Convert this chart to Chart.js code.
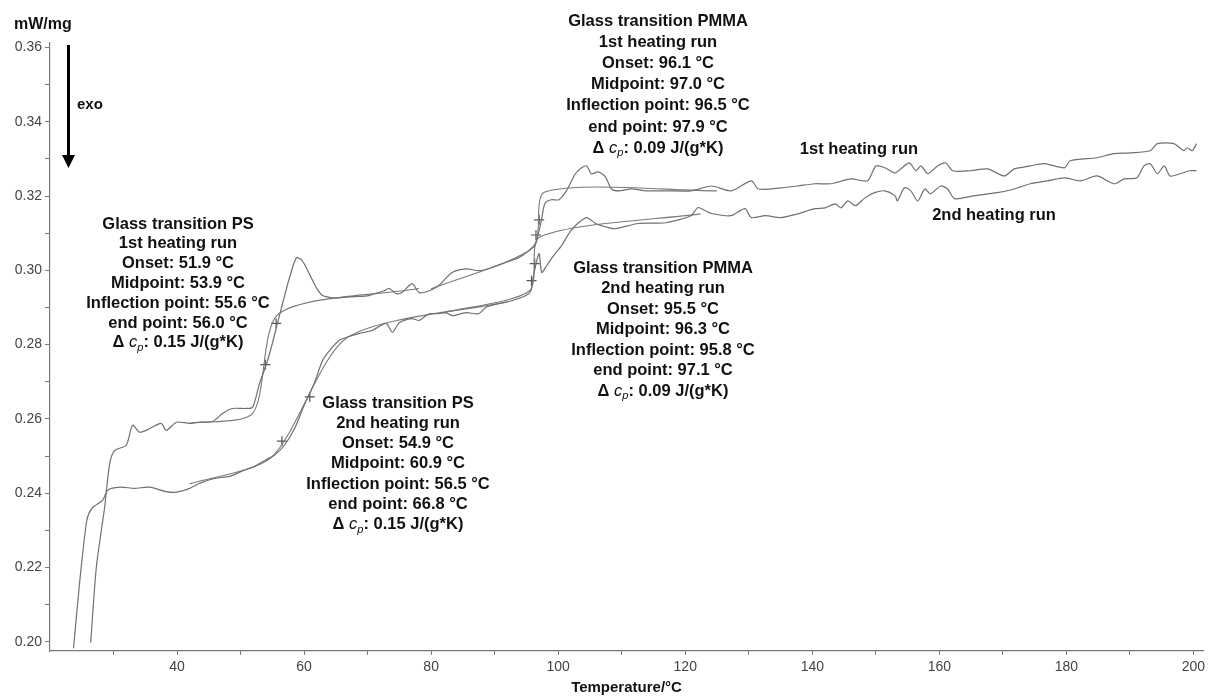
<!DOCTYPE html>
<html>
<head>
<meta charset="utf-8">
<script src="https://cdn.jsdelivr.net/npm/chart.js@4.4.1/dist/chart.umd.min.js"></script>
<style>
  html, body { margin: 0; padding: 0; background: #fff; }
  #wrap { width: 1210px; height: 697px; position: relative; }
</style>
</head>
<body>
<div id="wrap"><canvas id="dsc"></canvas></div>
<script>
// --- 1st heating run (temperature °C / heat flow mW/mg) ---
const run1Temp = [26.4,27.3,28.6,29.4,30.2,32.0,33.0,34.1,35.7,37.5,
  38.3,39.9,42.0,43.6,45.6,47.2,48.7,50.9,51.9,53.0,
  54.1,55.0,55.8,56.6,57.7,58.8,59.7,60.8,61.9,62.9,
  64.4,65.5,67.9,70.2,72.6,73.4,74.5,75.4,77.0,78.1,
  79.7,81.2,83.3,85.5,87.5,89.5,91.7,93.8,95.4,96.4,
  97.3,97.9,98.9,100.1,101.3,102.7,103.7,104.5,105.2,106.3,
  107.4,108.4,109.5,111.5,113.7,116.9,120.9,124.1,127.2,130.4,
  131.5,135.1,137.7,140.4,142.9,146.1,148.7,150.0,151.4,153.0,
  153.9,155.3,156.3,157.1,158.2,159.7,161.0,162.1,164.9,167.6,
  170.2,171.8,174.3,176.5,179.7,180.6,184.8,187.5,190.0,193.2,
  194.3,196.9,198.5,199.0,199.8,200.5];
const run1Flow = [0.1997,0.2201,0.2362,0.2480,0.2515,0.2529,0.2583,0.2564,0.2574,0.2588,
  0.2569,0.2591,0.2588,0.2591,0.2593,0.2615,0.2628,0.2628,0.2631,0.2696,
  0.2749,0.2803,0.2857,0.2910,0.2980,0.3034,0.3026,0.2991,0.2954,0.2932,
  0.2926,0.2926,0.2929,0.2932,0.2945,0.2951,0.2937,0.2940,0.2964,0.2940,
  0.2945,0.2959,0.2994,0.3004,0.2999,0.3007,0.3021,0.3034,0.3053,0.3072,
  0.3130,0.3180,0.3190,0.3190,0.3214,0.3260,0.3276,0.3281,0.3260,0.3265,
  0.3252,0.3219,0.3214,0.3219,0.3214,0.3214,0.3214,0.3227,0.3214,0.3241,
  0.3219,0.3222,0.3227,0.3233,0.3233,0.3246,0.3241,0.3281,0.3276,0.3262,
  0.3273,0.3289,0.3268,0.3281,0.3260,0.3281,0.3289,0.3268,0.3268,0.3273,
  0.3254,0.3273,0.3281,0.3287,0.3276,0.3295,0.3303,0.3314,0.3316,0.3322,
  0.3341,0.3341,0.3322,0.3330,0.3322,0.3341];

// --- 2nd heating run ---
const run2Temp = [23.7,24.7,25.8,26.6,28.3,29.1,31.0,33.3,35.7,38.1,
  39.6,42.0,43.6,45.9,48.3,50.6,52.2,53.8,55.3,56.9,
  58.5,60.0,61.6,62.9,64.0,65.5,66.6,68.7,70.7,72.9,
  73.9,75.0,77.0,78.1,79.7,81.2,82.3,83.3,85.5,87.5,
  88.6,90.6,92.7,94.9,95.7,96.0,96.6,97.0,97.4,98.2,
  99.3,100.5,102.0,103.2,104.5,105.9,107.9,109.0,112.6,116.9,
  120.9,122.0,123.1,124.1,127.2,129.4,130.4,132.6,135.1,137.7,
  140.4,142.0,143.6,144.5,145.6,146.8,148.3,149.8,151.4,153.0,
  153.4,154.5,155.5,156.6,157.7,158.6,160.2,161.3,162.4,165.5,
  169.1,171.8,174.3,177.0,179.7,182.2,184.8,187.5,189.1,191.1,
  192.2,193.2,194.3,195.4,196.3,197.9,199.4,200.5];
const run2Flow = [0.1982,0.2166,0.2327,0.2359,0.2381,0.2408,0.2416,0.2413,0.2416,0.2405,
  0.2402,0.2413,0.2427,0.2440,0.2445,0.2462,0.2472,0.2488,0.2502,0.2529,
  0.2574,0.2636,0.2696,0.2757,0.2784,0.2811,0.2819,0.2830,0.2838,0.2857,
  0.2833,0.2859,0.2870,0.2865,0.2883,0.2883,0.2886,0.2878,0.2886,0.2883,
  0.2900,0.2910,0.2918,0.2932,0.2945,0.2975,0.3025,0.3045,0.2994,0.3013,
  0.3040,0.3066,0.3107,0.3128,0.3142,0.3126,0.3115,0.3112,0.3126,0.3128,
  0.3147,0.3169,0.3161,0.3153,0.3147,0.3166,0.3142,0.3147,0.3142,0.3152,
  0.3166,0.3168,0.3179,0.3168,0.3187,0.3174,0.3195,0.3209,0.3214,0.3201,
  0.3187,0.3222,0.3214,0.3187,0.3219,0.3206,0.3227,0.3219,0.3193,0.3201,
  0.3209,0.3219,0.3233,0.3241,0.3249,0.3241,0.3254,0.3233,0.3246,0.3249,
  0.3281,0.3287,0.3260,0.3281,0.3254,0.3260,0.3268,0.3268];

// --- tangent constructions (baseline / step / baseline) ---
const tanPs1Temp = [42.0, 51.9, 56.0, 78.1];
const tanPs1Flow = [0.2588, 0.2615, 0.2883, 0.2951];
const tanPs2Temp = [42.0, 54.9, 66.8, 92.0];
const tanPs2Flow = [0.2425, 0.2497, 0.2819, 0.2915];
const tanPm1Temp = [80.0, 96.1, 97.9, 125.0];
const tanPm1Flow = [0.2950, 0.3062, 0.3211, 0.3214];
const tanPm2Temp = [82.0, 95.5, 97.1, 122.4];
const tanPm2Flow = [0.2886, 0.2945, 0.3090, 0.3152];

// "+" marks (midpoint / inflection on the step tangents)
const crossTemp = [53.9, 55.6, 56.5, 60.9, 96.5, 97.0, 95.8, 96.3];
const crossFlow = [0.2746, 0.2857, 0.2540, 0.2659, 0.3095, 0.3136, 0.2972, 0.3018];

// axis ticks
const xTicks = [30, 40, 50, 60, 70, 80, 90, 100, 110, 120, 130, 140, 150, 160, 170, 180, 190, 200];
const yTicks = [0.20, 0.21, 0.22, 0.23, 0.24, 0.25, 0.26, 0.27, 0.28, 0.29, 0.30, 0.31, 0.32, 0.33, 0.34, 0.35, 0.36];

// annotation texts
const ps1Lines = ['Glass transition PS', '1st heating run', 'Onset: 51.9 °C', 'Midpoint: 53.9 °C', 'Inflection point: 55.6 °C', 'end point: 56.0 °C'];
const ps2Lines = ['Glass transition PS', '2nd heating run', 'Onset: 54.9 °C', 'Midpoint: 60.9 °C', 'Inflection point: 56.5 °C', 'end point: 66.8 °C'];
const pm1Lines = ['Glass transition PMMA', '1st heating run', 'Onset: 96.1 °C', 'Midpoint: 97.0 °C', 'Inflection point: 96.5 °C', 'end point: 97.9 °C'];
const pm2Lines = ['Glass transition PMMA', '2nd heating run', 'Onset: 95.5 °C', 'Midpoint: 96.3 °C', 'Inflection point: 95.8 °C', 'end point: 97.1 °C'];
const deltaCp = ['0.15', '0.15', '0.09', '0.09'];

const FONT = '"Liberation Sans", Arial, Helvetica, sans-serif';
const LABEL_SIZE = 16.5;

function pairs(xs, ys) {
    return xs.map((x, i) => ({ x: x, y: ys[i] }));
}

function lineSet(xs, ys, color, width) {
    return {
        data: pairs(xs, ys),
        borderColor: color,
        borderWidth: width,
        pointRadius: 0,
        tension: 0.25,
        fill: false
    };
}

// draws "Δ cp: value J/(g*K)" centred at cx
function drawDelta(ctx, cx, y, value) {
    const bold = 'bold ' + LABEL_SIZE + 'px ' + FONT;
    const ital = 'italic ' + LABEL_SIZE + 'px ' + FONT;
    const sub = 'italic 11px ' + FONT;
    const p1 = 'Δ ', p3 = ': ' + value + ' J/(g*K)';
    ctx.font = bold; const w1 = ctx.measureText(p1).width, w3 = ctx.measureText(p3).width;
    ctx.font = ital; const w2 = ctx.measureText('c').width;
    ctx.font = sub; const ws = ctx.measureText('p').width;
    let x = cx - (w1 + w2 + ws + w3) / 2;
    ctx.textAlign = 'left';
    ctx.font = bold; ctx.fillText(p1, x, y); x += w1;
    ctx.font = ital; ctx.fillText('c', x, y); x += w2;
    ctx.font = sub; ctx.fillText('p', x, y + 5); x += ws;
    ctx.font = bold; ctx.fillText(p3, x, y);
}

function drawBlock(ctx, lines, delta, cx, y0, dy) {
    ctx.font = 'bold ' + LABEL_SIZE + 'px ' + FONT;
    ctx.textAlign = 'center';
    lines.forEach((t, i) => ctx.fillText(t, cx, y0 + i * dy));
    drawDelta(ctx, cx, y0 + lines.length * dy, delta);
}

const textPlugin = {
    id: 'dscText',
    afterDraw(chart) {
        const ctx = chart.ctx;
        ctx.save();
        ctx.fillStyle = '#111';
        ctx.textBaseline = 'middle';

        drawBlock(ctx, ps1Lines, deltaCp[0], 178, 224, 19.8);
        drawBlock(ctx, ps2Lines, deltaCp[1], 398, 403, 20.3);
        drawBlock(ctx, pm1Lines, deltaCp[2], 658, 21, 21.2);
        drawBlock(ctx, pm2Lines, deltaCp[3], 663, 268, 20.5);

        ctx.font = 'bold ' + LABEL_SIZE + 'px ' + FONT;
        ctx.textAlign = 'center';
        ctx.fillText('1st heating run', 859, 149);
        ctx.fillText('2nd heating run', 994, 215);

        // y axis unit
        ctx.font = 'bold 16px ' + FONT;
        ctx.textAlign = 'left';
        ctx.fillText('mW/mg', 14, 25);

        // exo arrow
        ctx.font = 'bold 15px ' + FONT;
        ctx.fillText('exo', 77, 105);
        ctx.strokeStyle = '#000';
        ctx.lineWidth = 3;
        ctx.beginPath();
        ctx.moveTo(68.5, 45);
        ctx.lineTo(68.5, 156);
        ctx.stroke();
        ctx.fillStyle = '#000';
        ctx.beginPath();
        ctx.moveTo(62, 155);
        ctx.lineTo(75, 155);
        ctx.lineTo(68.5, 168);
        ctx.closePath();
        ctx.fill();
        ctx.restore();
    }
};

new Chart(document.getElementById('dsc'), {
    type: 'line',
    data: {
        datasets: [
            lineSet(run1Temp, run1Flow, '#707070', 1.2),
            lineSet(run2Temp, run2Flow, '#707070', 1.2),
            lineSet(tanPs1Temp, tanPs1Flow, '#7a7a7a', 1.1),
            lineSet(tanPs2Temp, tanPs2Flow, '#7a7a7a', 1.1),
            lineSet(tanPm1Temp, tanPm1Flow, '#7a7a7a', 1.1),
            lineSet(tanPm2Temp, tanPm2Flow, '#7a7a7a', 1.1),
            {
                data: pairs(crossTemp, crossFlow),
                showLine: false,
                pointStyle: 'cross',
                pointRadius: 5,
                borderColor: '#555',
                borderWidth: 1.2
            }
        ]
    },
    options: {
        responsive: true,
        maintainAspectRatio: false,
        animation: false,
        layout: { padding: { top: 43, right: 7, left: 0, bottom: 0 } },
        plugins: { legend: { display: false }, tooltip: { enabled: false } },
        elements: { line: { tension: 0.25 } },
        scales: {
            x: {
                type: 'linear',
                min: 20,
                max: 201.5,
                afterBuildTicks: s => { s.ticks = xTicks.map(v => ({ value: v })); },
                afterFit: s => { s.height = 46; },
                border: { display: true, color: '#7a7a7a', width: 1.2 },
                grid: { drawOnChartArea: false, drawTicks: true, tickLength: 4, color: '#7a7a7a' },
                ticks: {
                    padding: 4,
                    color: '#444',
                    font: { family: FONT, size: 14 },
                    maxRotation: 0,
                    autoSkip: false,
                    callback: v => (v % 20 === 0 ? String(v) : '')
                },
                title: {
                    display: true,
                    text: 'Temperature/°C',
                    color: '#111',
                    font: { family: FONT, size: 15, weight: 'bold' },
                    padding: { top: 0, bottom: 0 }
                }
            },
            y: {
                type: 'linear',
                min: 0.1975,
                max: 0.3612,
                afterBuildTicks: s => { s.ticks = yTicks.map(v => ({ value: v })); },
                afterFit: s => { s.width = 50; },
                border: { display: true, color: '#7a7a7a', width: 1.2 },
                grid: { drawOnChartArea: false, drawTicks: true, tickLength: 5, color: '#7a7a7a' },
                ticks: {
                    padding: 3,
                    color: '#444',
                    font: { family: FONT, size: 14 },
                    autoSkip: false,
                    callback: v => (Math.round(v * 100) % 2 === 0 ? v.toFixed(2) : '')
                }
            }
        }
    },
    plugins: [textPlugin]
});
</script>
</body>
</html>
